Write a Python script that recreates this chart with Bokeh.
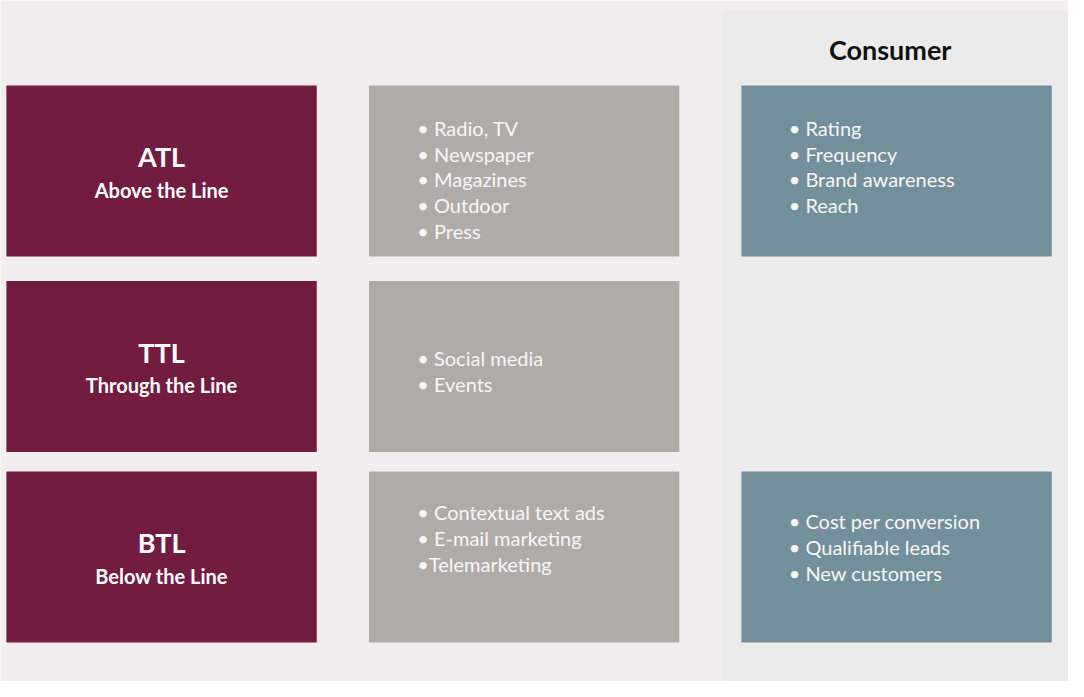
from bokeh.plotting import figure
from bokeh.models import Range1d
from bokeh.embed import file_html
from bokeh.resources import INLINE
from bokeh.core.properties import value

# ---- data ----
codes = ["ATL", "TTL", "BTL"]
names = ["Above the Line", "Through the Line", "Below the Line"]
channels = [
    ["• Radio, TV", "• Newspaper", "• Magazines", "• Outdoor", "• Press"],
    ["• Social media", "• Events"],
    ["• Contextual text ads", "• E-mail marketing", "•Telemarketing"],
]
consumer_title = "Consumer"
consumer_metrics = [
    ["• Rating", "• Frequency", "• Brand awareness", "• Reach"],
    [],
    ["• Cost per conversion", "• Qualifiable leads", "• New customers"],
]

# ---- layout / style ----
BG = "#F2EDEF"
PANEL = "#ECEBEB"
MAROON = "#721C42"
GREY = "#AFACA7"
BLUE = "#738F9C"
W, H = 1068, 681
VW, VH = 1084, 697
row_top = [87, 287, 482]
row_h = 175
col_left = [6, 374, 752]
col_w = 315
line_gap = 26.6
mid_offset = [43, 79, 42]
right_offset = [43, 0, 51]
FONT = "Lato"
TFONT = "Lato"

p = figure(width=W, height=H, output_backend="svg", toolbar_location=None,
           x_range=Range1d(0, VW), y_range=Range1d(VH, 0),
           min_border=0, background_fill_color=BG, border_fill_color=BG)
p.axis.visible = False
p.grid.visible = False
p.outline_line_color = None

# consumer panel
p.quad(left=733, right=VW + 10, top=11, bottom=VH + 10,
       fill_color=PANEL, line_color=None)
p.text(x=[903], y=[50], text=[consumer_title], text_align="center",
       text_baseline="middle", text_font=value(TFONT), text_font_style="bold",
       text_font_size="27px", text_color="#111111")

for i in range(len(codes)):
    top = row_top[i]
    bot = top + row_h
    # left maroon box
    p.quad(left=col_left[0], right=col_left[0] + col_w, top=top, bottom=bot,
           fill_color=MAROON, line_color=None)
    cx = col_left[0] + col_w / 2
    p.text(x=[cx], y=[top + 73], text=[codes[i]], text_align="center",
           text_baseline="middle", text_font=value(TFONT), text_font_style="bold",
           text_font_size="27px", text_color="white")
    p.text(x=[cx], y=[top + 107], text=[names[i]], text_align="center",
           text_baseline="middle", text_font=value(TFONT), text_font_style="bold",
           text_font_size="20px", text_color="white")
    # middle grey box
    p.quad(left=col_left[1], right=col_left[1] + col_w, top=top, bottom=bot,
           fill_color=GREY, line_color=None)
    items = channels[i]
    p.text(x=[col_left[1] + 49] * len(items),
           y=[top + mid_offset[i] + k * line_gap for k in range(len(items))],
           text=items, text_align="left", text_baseline="middle",
           text_font=value(FONT), text_font_size="20px", text_color="#F7F7F7")
    # right blue box
    mets = consumer_metrics[i]
    if mets:
        p.quad(left=col_left[2], right=col_left[2] + col_w, top=top, bottom=bot,
               fill_color=BLUE, line_color=None)
        p.text(x=[col_left[2] + 48] * len(mets),
               y=[top + right_offset[i] + k * line_gap for k in range(len(mets))],
               text=mets, text_align="left", text_baseline="middle",
               text_font=value(FONT), text_font_size="20px", text_color="#F7F7F7")

open("out.html", "w").write(file_html(p, INLINE))
